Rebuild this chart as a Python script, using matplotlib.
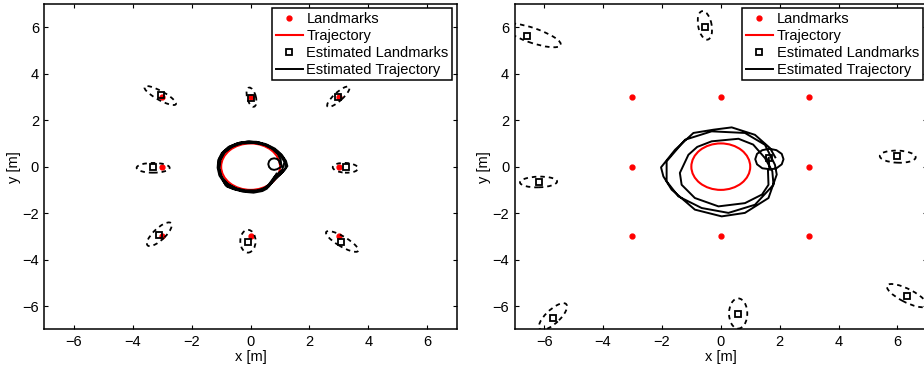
import matplotlib
matplotlib.use('Agg')
import matplotlib.pyplot as plt
from matplotlib.patches import Ellipse, Circle
from matplotlib.lines import Line2D

plt.rcParams['font.family'] = ['Liberation Sans', 'DejaVu Sans']
plt.rcParams['font.size'] = 10.5

# true landmarks (same for both runs)
landmarks_x = [-3, 0, 3, -3, 3, -3, 0, 3]
landmarks_y = [3, 3, 3, 0, 0, -3, -3, -3]

# true trajectory: circle
traj_center = (0.0, 0.0)
traj_radius = 1.0

# left run: estimated landmarks and covariance ellipses (cx, cy, w, h, angle)
est_left_x = [-3.05, 0.03, 2.98, -3.32, 3.25, -3.12, -0.09, 3.08]
est_left_y = [3.07, 2.97, 3.01, -0.01, -0.03, -2.94, -3.23, -3.23]
ell_left = [
    (-3.07, 3.06, 1.30, 0.36, -36),
    (0.03, 2.99, 0.84, 0.30, 101),
    (2.98, 3.01, 1.12, 0.32, 50),
    (-3.31, -0.05, 1.12, 0.42, 0),
    (3.22, -0.05, 0.86, 0.42, -4),
    (-3.10, -2.91, 1.25, 0.44, 52),
    (-0.09, -3.21, 0.52, 0.98, 0),
    (3.11, -3.22, 1.36, 0.40, -38),
]
est_traj_left = [
    (1.00, 0.11), (0.97, 0.24), (0.90, 0.33), (0.80, 0.36), (0.70, 0.33),
    (0.63, 0.24), (0.60, 0.11), (0.63, -0.02), (0.70, -0.11), (0.80, -0.14),
    (0.90, -0.11), (1.05, 0.00), (1.02, 0.30), (0.92, 0.55), (0.72, 0.78),
    (0.45, 0.95), (0.15, 1.04), (-0.15, 1.05), (-0.45, 0.97), (-0.72, 0.80),
    (-0.92, 0.56), (-1.04, 0.28), (-1.08, -0.02), (-1.03, -0.32),
    (-0.92, -0.58), (-0.72, -0.80), (-0.45, -0.97), (-0.15, -1.06),
    (0.15, -1.06), (0.42, -0.98), (0.62, -0.85), (0.85, -0.50),
    (1.10, -0.22), (1.25, 0.02), (1.20, 0.25), (1.05, 0.52), (0.82, 0.78),
    (0.52, 0.97), (0.20, 1.07), (-0.12, 1.08), (-0.45, 1.01), (-0.75, 0.85),
    (-0.98, 0.58), (-1.10, 0.28), (-1.12, -0.05), (-1.06, -0.38),
    (-0.92, -0.65), (-0.80, -0.86), (-0.55, -0.98), (-0.25, -1.08),
    (0.10, -1.12), (0.40, -1.05), (0.55, -0.95), (0.75, -0.65),
    (1.00, -0.35), (1.18, -0.10), (1.20, 0.15), (1.10, 0.42), (0.90, 0.68),
    (0.60, 0.90), (0.28, 1.04), (-0.05, 1.08), (-0.38, 1.03), (-0.68, 0.88),
    (-0.92, 0.65), (-1.06, 0.35), (-1.10, 0.02), (-1.05, -0.30),
    (-0.95, -0.55), (-0.85, -0.80), (-0.60, -0.95), (-0.30, -1.04),
    (0.05, -1.08), (0.35, -1.02), (0.60, -0.80), (0.80, -0.45),
    (1.08, -0.12), (1.15, 0.20), (1.02, 0.48), (0.80, 0.74), (0.50, 0.93),
    (0.12, 1.02), (-0.30, 1.00), (-0.62, 0.86), (-0.88, 0.62),
    (-1.02, 0.30), (-1.06, -0.08), (-0.98, -0.45), (-0.78, -0.74),
    (-0.50, -0.93), (-0.18, -1.02), (0.22, -1.02), (0.48, -0.92),
    (0.70, -0.70), (0.88, -0.30),
]

# right run: estimated landmarks and covariance ellipses
est_right_x = [-6.57, -0.54, -6.17, 6.00, -5.70, 0.60, 6.34, 1.63]
est_right_y = [5.63, 6.02, -0.65, 0.45, -6.51, -6.32, -5.56, 0.38]
ell_right = [
    (-6.40, 5.65, 2.10, 0.62, -24),
    (-0.54, 6.08, 1.24, 0.46, 98),
    (-6.19, -0.66, 1.26, 0.46, 2),
    (6.01, 0.43, 1.22, 0.52, -3),
    (-5.70, -6.45, 1.40, 0.52, 52),
    (0.59, -6.32, 0.62, 1.30, 0),
    (6.32, -5.55, 1.60, 0.54, -34),
    (1.63, 0.38, 0.16, 0.22, 40),
]
est_traj_right = [
    (1.63, 0.38), (1.65, -0.13), (1.89, -0.07), (2.07, 0.10), (2.13, 0.32),
    (2.07, 0.55), (1.89, 0.71), (1.65, 0.77), (1.41, 0.71), (1.23, 0.55),
    (1.17, 0.32), (1.23, 0.10), (1.41, -0.07), (1.60, -0.10),
    (1.62, -0.78), (1.40, -1.20), (0.82, -1.57), (-0.08, -1.71),
    (-0.88, -1.35), (-1.33, -0.78), (-1.39, -0.27), (-1.10, 0.51),
    (-0.80, 0.85), (-0.31, 1.09), (0.60, 1.20), (1.10, 0.95), (1.50, 0.37),
    (1.75, -0.20), (1.79, -0.78), (1.16, -1.64), (0.26, -1.99),
    (-0.65, -1.78), (-1.44, -1.28), (-1.84, -0.63), (-1.84, 0.23),
    (-1.21, 1.16), (-0.31, 1.52), (0.82, 1.45), (1.50, 0.94), (1.84, 0.08),
    (1.90, -0.34), (1.62, -1.35), (0.82, -1.99), (0.03, -2.14),
    (-0.88, -1.85), (-1.67, -0.99), (-1.95, -0.42), (-2.03, -0.03),
    (-1.55, 0.73), (-0.93, 1.45), (-0.25, 1.59), (0.37, 1.69), (1.16, 1.37),
    (1.67, 0.80), (1.85, 0.40),
]

axis_lim = (-7, 7)
ticks = [-6, -4, -2, 0, 2, 4, 6]


def dibuja(ax, est_x, est_y, ellipses, est_traj):
    ax.plot(landmarks_x, landmarks_y, '.', color='red', markersize=7,
            zorder=2)
    ax.add_patch(Circle(traj_center, traj_radius, fill=False, ec='red',
                        lw=1.5, zorder=2))
    ax.plot(est_x, est_y, 's', mfc='none', mec='black', mew=1.3,
            markersize=4.5, zorder=4)
    for cx, cy, w, h, ang in ellipses:
        ax.add_patch(Ellipse((cx, cy), w, h, angle=ang, fill=False,
                             ec='black', lw=1.3, ls=(0, (2.5, 2.2)),
                             zorder=3))
    tx = [p[0] for p in est_traj]
    ty = [p[1] for p in est_traj]
    ax.plot(tx, ty, '-', color='black', lw=1.4, zorder=3)

    ax.set_xlim(axis_lim)
    ax.set_ylim(axis_lim)
    ax.set_xticks(ticks)
    ax.set_yticks(ticks)
    ax.tick_params(direction='in', length=3, width=0.8, top=True,
                   right=True, labelsize=10.5, pad=4)
    for s in ax.spines.values():
        s.set_linewidth(1.1)
    ax.set_xlabel('x [m]', labelpad=1)
    ax.set_ylabel('y [m]', labelpad=1)

    handles = [
        Line2D([], [], ls='none', marker='.', color='red', markersize=7),
        Line2D([], [], color='red', lw=1.5),
        Line2D([], [], ls='none', marker='s', mfc='none', mec='black',
               mew=1.3, markersize=4.5),
        Line2D([], [], color='black', lw=1.4),
    ]
    labels = ['Landmarks', 'Trajectory', 'Estimated Landmarks',
              'Estimated Trajectory']
    leg = ax.legend(handles, labels, loc='upper right', fancybox=False,
                    framealpha=1, edgecolor='black', borderpad=0.25,
                    borderaxespad=0.3, handlelength=1.85,
                    handletextpad=0.25, labelspacing=0.2, fontsize=10.5)
    leg.get_frame().set_linewidth(1.1)


fig = plt.figure(figsize=(9.24, 3.66), dpi=100)
ax1 = fig.add_axes([0.04816, 0.10027, 0.44610, 0.88880])
ax2 = fig.add_axes([0.55703, 0.10027, 0.44610, 0.88880])

dibuja(ax1, est_left_x, est_left_y, ell_left, est_traj_left)
dibuja(ax2, est_right_x, est_right_y, ell_right, est_traj_right)

fig.savefig('out.png', dpi=100)
